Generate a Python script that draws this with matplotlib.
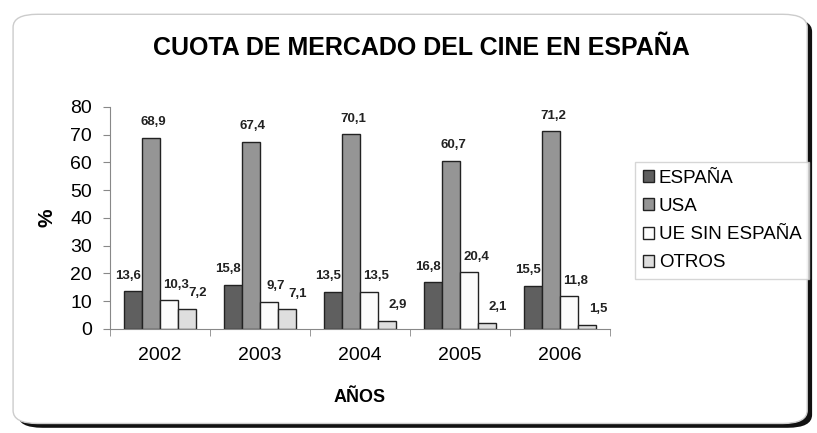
import numpy as np
import matplotlib
matplotlib.use('Agg')
import matplotlib.pyplot as plt
from matplotlib.patches import FancyBboxPatch

plt.rcParams['font.family'] = ['Liberation Sans', 'DejaVu Sans']

years = ['2002', '2003', '2004', '2005', '2006']
series = ['ESPAÑA', 'USA', 'UE SIN ESPAÑA', 'OTROS']
espana = [13.6, 15.8, 13.5, 16.8, 15.5]
usa = [68.9, 67.4, 70.1, 60.7, 71.2]
ue = [10.3, 9.7, 13.5, 20.4, 11.8]
otros = [7.2, 7.1, 2.9, 2.1, 1.5]

colors = ['#5f5f5f', '#959595', '#fcfcfc', '#dedede']
label_dx = [-0.05, 0.02, 0.07, 0.11]

fig = plt.figure(figsize=(8.17, 4.33), dpi=100)

# rounded frame with shadow
shadow = FancyBboxPatch((0.022, 0.012), 0.972, 0.945, boxstyle='round,pad=0,rounding_size=0.03',
                        transform=fig.transFigure, facecolor='#111111', edgecolor='none', zorder=-2)
frame = FancyBboxPatch((0.016, 0.022), 0.972, 0.945, boxstyle='round,pad=0,rounding_size=0.03',
                       transform=fig.transFigure, facecolor='white', edgecolor='#cccccc', lw=1, zorder=-1)
fig.patches.extend([shadow, frame])

ax = fig.add_axes([0.1346, 0.2402, 0.612, 0.5127])
ax.set_zorder(2)
ax.set_facecolor('none')

x = np.arange(len(years))
w = 0.18
for i, (name, vals) in enumerate(zip(series, [espana, usa, ue, otros])):
    pos = x + (i - 1.5) * w
    ax.bar(pos, vals, w, color=colors[i], edgecolor='#222222', lw=1, label=name, zorder=2)
    for p, v in zip(pos, vals):
        ax.annotate(f'{v:.1f}'.replace('.', ','), (p + label_dx[i], v), xytext=(0, 7),
                    textcoords='offset points', ha='center', va='bottom',
                    fontsize=9.5, fontweight='bold', color='#222222')

ax.set_xlim(-0.5, 4.5)
ax.set_ylim(0, 80)
ax.set_yticks(range(0, 81, 10))
ax.tick_params(axis='y', labelsize=14, length=5, color='#888888', pad=8)
ax.set_xticks(x)
ax.set_xticklabels(years, fontsize=14)
ax.set_xticks(np.arange(-0.5, 5, 1), minor=True)
ax.tick_params(axis='x', which='major', length=0, pad=13)
ax.tick_params(axis='x', which='minor', length=5, color='#888888')
for s in ['top', 'right']:
    ax.spines[s].set_visible(False)
for s in ['left', 'bottom']:
    ax.spines[s].set_color('#888888')

ax.set_ylabel('%', fontsize=15, fontweight='bold', labelpad=10)
ax.set_xlabel('AÑOS', fontsize=13, fontweight='bold', labelpad=18)

fig.text(0.516, 0.89, 'CUOTA DE MERCADO DEL CINE EN ESPAÑA', ha='center', va='center',
         fontsize=18, fontweight='bold')

leg = ax.legend(loc='upper left', bbox_to_anchor=(0.766, 0.647), bbox_transform=fig.transFigure,
                fontsize=13.5, frameon=True, fancybox=False, shadow=False, handlelength=0.6,
                handleheight=0.6, handletextpad=0.25, labelspacing=0.6, borderpad=0.4,
                edgecolor='#cccccc')
leg.get_frame().set_linewidth(1)

fig.savefig('out.png', dpi=100)
